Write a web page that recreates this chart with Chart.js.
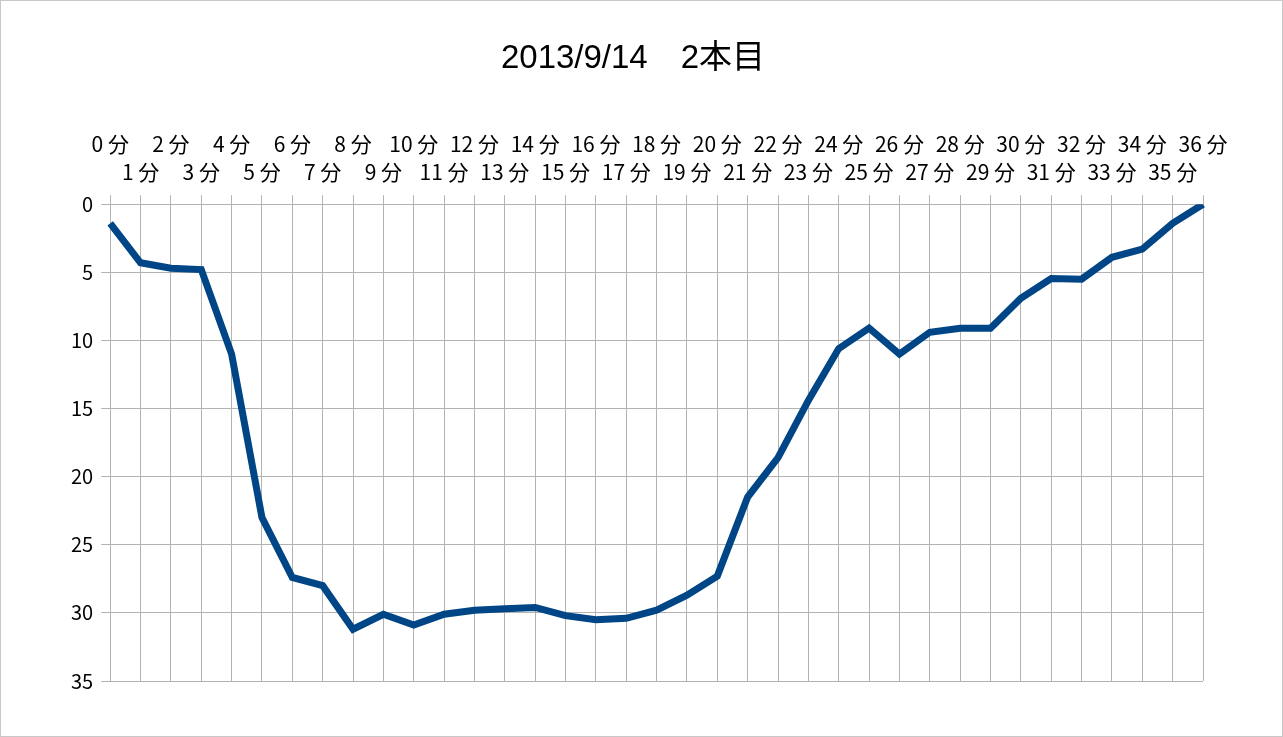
<!DOCTYPE html>
<html>
<head>
<meta charset="utf-8">
<script src="https://cdn.jsdelivr.net/npm/chart.js@4"></script>
<style>
  html, body { margin: 0; padding: 0; background: #fff; }
  #wrap { position: relative; width: 1281px; height: 735px; border: 1px solid #c8c8c8; }
</style>
</head>
<body>
<div id="wrap"><canvas id="chart"></canvas></div>
<script>
const titleText = '2013/9/14\u30002本目';

// minutes 0..36
const minutes = [0, 1, 2, 3, 4, 5, 6, 7, 8, 9, 10, 11, 12, 13, 14, 15, 16, 17, 18,
  19, 20, 21, 22, 23, 24, 25, 26, 27, 28, 29, 30, 31, 32, 33, 34, 35, 36];
const minuteLabels = minutes.map(m => m + ' 分');

const depth = [1.4, 4.3, 4.7, 4.8, 11.0, 23.0, 27.4, 28.0, 31.2, 30.1, 30.9, 30.1, 29.8,
  29.7, 29.6, 30.2, 30.5, 30.4, 29.8, 28.7, 27.3, 21.5, 18.6, 14.4, 10.6, 9.1, 11.0,
  9.4, 9.1, 9.1, 6.9, 5.45, 5.5, 3.9, 3.3, 1.4, 0];

const yMin = 0;
const yMax = 35;
const yStep = 5;

const lineColor = '#004586';
const gridColor = '#b3b3b3';
const labelFont = "'Noto Sans CJK JP', 'Noto Sans', sans-serif";

const ctx = document.getElementById('chart').getContext('2d');

new Chart(ctx, {
  type: 'line',
  data: {
    labels: minuteLabels,
    datasets: [{
      data: depth,
      borderColor: lineColor,
      borderWidth: 7,
      pointRadius: 0,
      tension: 0,
      fill: false
    }]
  },
  options: {
    responsive: true,
    maintainAspectRatio: false,
    animation: false,
    layout: {
      padding: { left: 62, right: 79, top: 10, bottom: 55 }
    },
    plugins: {
      legend: { display: false },
      tooltip: { enabled: false },
      title: {
        display: true,
        text: titleText,
        color: '#000',
        font: { family: "'Liberation Sans', 'Noto Sans CJK JP', sans-serif", size: 33, weight: 'normal' },
        padding: { top: 28, bottom: 42 }
      }
    },
    scales: {
      x: {
        position: 'top',
        offset: false,
        grid: {
          color: gridColor,
          lineWidth: 1,
          drawTicks: true,
          tickLength: 9
        },
        border: { color: gridColor },
        ticks: {
          autoSkip: false,
          maxRotation: 0,
          minRotation: 0,
          color: '#000',
          padding: 10,
          font: { family: labelFont, size: 21, lineHeight: 1.3 },
          // alternate labels between two rows
          callback: function (value, index) {
            const lbl = minuteLabels[index];
            return index % 2 === 0 ? [lbl, ''] : ['', lbl];
          }
        }
      },
      y: {
        reverse: true,
        min: yMin,
        max: yMax,
        grid: {
          color: gridColor,
          lineWidth: 1,
          drawTicks: true,
          tickLength: 9
        },
        border: { color: gridColor },
        ticks: {
          stepSize: yStep,
          color: '#000',
          padding: 8,
          font: { family: labelFont, size: 20 }
        }
      }
    }
  }
});
</script>
</body>
</html>
